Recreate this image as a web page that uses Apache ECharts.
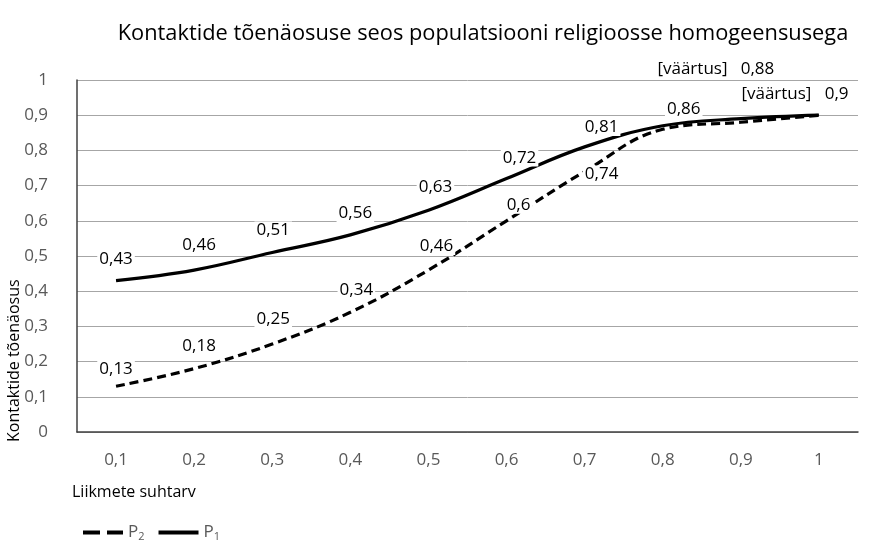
<!DOCTYPE html>
<html>
<head>
<meta charset="utf-8">
<script src="https://cdn.jsdelivr.net/npm/echarts@6/dist/echarts.min.js"></script>
<style>html,body{margin:0;padding:0;background:#fff}#c{width:889px;height:542px}</style>
</head>
<body>
<div id="c"></div>
<script>
var categories = ['0,1','0,2','0,3','0,4','0,5','0,6','0,7','0,8','0,9','1'];
var p1Values = [0.43,0.46,0.51,0.56,0.63,0.72,0.81,0.87,0.89,0.9];
var p2Values = [0.13,0.18,0.25,0.34,0.46,0.6,0.74,0.86,0.88,0.9];
var yTicks = [0,0.1,0.2,0.3,0.4,0.5,0.6,0.7,0.8,0.9,1];
var titleText = 'Kontaktide tõenäosuse seos populatsiooni religioosse homogeensusega';
var xName = 'Liikmete suhtarv';
var yName = 'Kontaktide tõenäosus';

// label placement tweaks (dx, dy) and visibility
var p1LabelOffsets = [[0,-8],[5,-11],[1,-9],[5,-8],[7,-10],[13,-7],[17,-6],null,null,null];
var p2LabelOffsets = [[0,-4],[5,-9],[1,-11],[6,-9],[8,-10],[12,-2],[17,16],[21,-7],[-25,-40],[-24,-8]];
var p2Prefixed = [false,false,false,false,false,false,false,false,true,true];

function fmt(v){ return String(v).replace('.', ','); }
var FONT = 'Open Sans';

function buildData(vals, offs, prefixed){
  return vals.map(function(v,i){
    var o = offs[i];
    var d = {value: v};
    if (!o) { d.label = {show:false}; }
    else {
      d.label = {show:true, offset:o,
        formatter: (prefixed && prefixed[i]) ? ('[väärtus]   ' + fmt(v)) : fmt(v)};
    }
    return d;
  });
}

var labelStyle = {
  show:true, position:'top', distance:5, color:'#000', fontFamily:FONT, fontSize:17,
  backgroundColor:'#fff', padding:[0,2]
};

var chart = echarts.init(document.getElementById('c'), null, {renderer:'canvas'});
chart.setOption({
  animation:false,
  backgroundColor:'#fff',
  title:{text:titleText, left:478, textAlign:'center', top:18,
    textStyle:{fontFamily:FONT, fontSize:21.8, fontWeight:'normal', color:'#000'}},
  grid:{left:77, right:31, top:80, bottom:110},
  xAxis:{type:'category', data:categories, boundaryGap:true,
    axisLine:{lineStyle:{color:'#404040', width:1.5}},
    axisTick:{show:false},
    axisLabel:{color:'#595959', fontFamily:FONT, fontSize:17, margin:20}},
  yAxis:{type:'value', min:0, max:1, interval:0.1,
    axisLine:{show:true, lineStyle:{color:'#404040', width:1.5}},
    axisTick:{show:false},
    splitLine:{lineStyle:{color:'#a6a6a6', width:1}},
    axisLabel:{color:'#595959', fontFamily:FONT, fontSize:17, margin:29,
      formatter:function(v){ return fmt(Math.round(v*10)/10); }}},
  legend:{left:78, top:519, itemWidth:40, itemHeight:4, itemGap:14,
    data:[
      {name:'P2', icon:'path://M0,0h17v4h-17z M24,0h16v4h-16z'},
      {name:'P1', icon:'path://M0,0h40v4h-40z'}
    ],
    formatter:function(n){ return n[0] + '{s|' + n.slice(1) + '}'; },
    textStyle:{fontFamily:FONT, fontSize:17, color:'#595959',
      rich:{s:{fontSize:11, fontFamily:FONT, color:'#595959', padding:[9,0,0,0]}}}},
  graphic:[
    {type:'text', left:72, top:484, style:{text:xName, font:'16px "Open Sans"', fill:'#000'}},
    {type:'text', x:6, y:442, rotation:Math.PI/2, originX:0, originY:0,
      style:{text:yName, font:'16px "Open Sans"', fill:'#000'}}
  ],
  series:[
    {name:'P2', type:'line', smooth:0.4, symbol:'circle', symbolSize:0.01, showSymbol:true,
      lineStyle:{color:'#000', width:3.2, type:[9,5]}, itemStyle:{color:'#000'},
      label:labelStyle, data:buildData(p2Values, p2LabelOffsets, p2Prefixed)},
    {name:'P1', type:'line', smooth:0.4, symbol:'circle', symbolSize:0.01, showSymbol:true,
      lineStyle:{color:'#000', width:3.2}, itemStyle:{color:'#000'},
      label:labelStyle, data:buildData(p1Values, p1LabelOffsets, null)}
  ]
});
</script>
</body>
</html>
